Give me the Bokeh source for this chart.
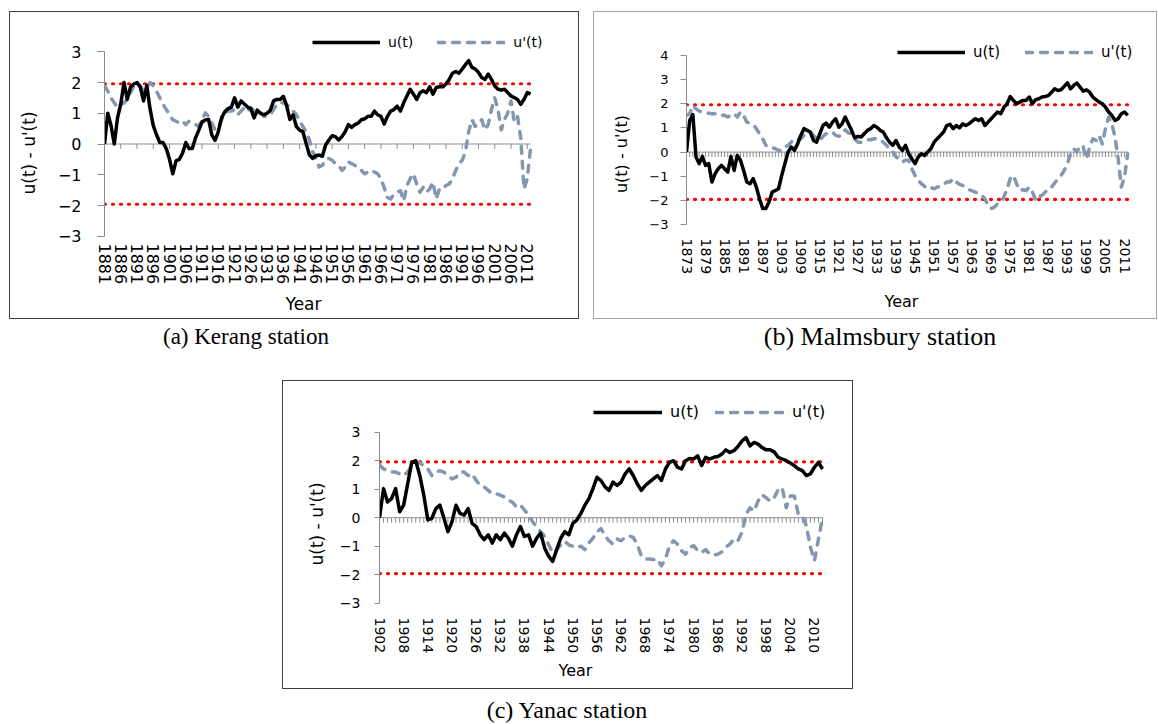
from bokeh.plotting import figure
from bokeh.models import (Range1d, LinearAxis, FixedTicker, Legend, LegendItem, Div,
                          InlineStyleSheet, CustomJSTickFormatter)
from bokeh.layouts import column, row
from bokeh.embed import file_html
from bokeh.resources import INLINE

# ---------------- data ----------------
Z_CRIT = 1.96

KERANG_START, KERANG_END = 1881, 2012
kerang_u = [
    0.0, 1.0, 0.6, 0.0, 0.85, 1.3, 2.0, 1.45, 1.85, 1.95,
    2.0, 1.85, 1.4, 1.9, 1.15, 0.6, 0.3, 0.05, 0.05, -0.15,
    -0.5, -0.97, -0.55, -0.5, -0.3, 0.05, -0.15, -0.15, 0.2, 0.45,
    0.72, 0.78, 0.8, 0.3, 0.12, 0.4, 0.85, 1.05, 1.15, 1.2,
    1.5, 1.2, 1.4, 1.3, 1.2, 1.15, 0.85, 1.1, 1.0, 0.95,
    1.0, 1.1, 1.4, 1.45, 1.45, 1.55, 1.25, 0.8, 0.95, 0.57,
    0.45, 0.4, 0.02, -0.35, -0.47, -0.38,
    -0.36, -0.4, -0.03, 0.13, 0.27, 0.24, 0.13, 0.24, 0.4, 0.63,
    0.54, 0.63, 0.68, 0.79, 0.82, 0.9, 0.9, 1.07, 0.95, 0.9,
    0.65, 0.9, 1.07, 1.12, 1.23, 1.07, 1.34, 1.56, 1.78, 1.62,
    1.45, 1.67, 1.73, 1.67, 1.86, 1.62, 1.84, 1.86, 1.86, 1.95,
    2.1, 2.3, 2.36, 2.3, 2.44, 2.58, 2.71, 2.49, 2.44, 2.33,
    2.16, 2.1, 2.27, 2.1, 1.89, 1.78, 1.75, 1.78, 1.67, 1.56,
    1.51, 1.45, 1.29, 1.45, 1.67, 1.62,
]
kerang_up = [
    1.89, 1.72, 1.5, 1.34, 1.18, 1.29, 1.34, 1.45, 1.67, 1.89,
    1.95, 1.89, 1.72, 1.84, 2.0, 1.89, 1.72, 1.5, 1.29, 1.12,
    0.96, 0.79, 0.74, 0.68, 0.74, 0.63, 0.74, 0.68, 0.63, 0.57,
    0.79, 1.01, 0.9, 0.68, 0.46, 0.57, 0.79, 1.01, 1.07, 1.07,
    1.12, 0.96, 1.07, 1.18, 1.07, 1.18, 1.07, 0.96, 1.01, 0.9,
    0.9, 0.96, 1.12, 1.29, 1.34, 1.34, 1.29, 1.18, 1.07, 0.96,
    0.74, 0.57, 0.4, 0.13, -0.25, -0.45,
    -0.75, -0.69, -0.53, -0.47, -0.53, -0.64, -0.69, -0.86, -0.75, -0.58,
    -0.64, -0.69, -0.8, -0.86, -0.97, -0.91, -0.86, -0.91, -0.97, -1.13,
    -1.41, -1.74, -1.79, -1.63, -1.57, -1.52, -1.85, -1.35, -1.13, -0.97,
    -1.3, -1.57, -1.41, -1.57, -1.46, -1.24, -1.79, -1.46, -1.46, -1.35,
    -1.3, -1.13, -0.86, -0.64, -0.53, -0.25, 0.41, 0.79, 0.57, 0.68,
    0.79, 0.46, 0.63, 1.12, 1.5, 1.12, 0.46, 0.79, 1.01, 1.4,
    0.74, 0.9, 0.19, -1.46, -1.13, -0.14,
]
kerang_ticks = [1881, 1886, 1891, 1896, 1901, 1906, 1911, 1916, 1921, 1926,
                1931, 1936, 1941, 1946, 1951, 1956, 1961, 1966, 1971, 1976,
                1981, 1986, 1991, 1996, 2001, 2006, 2011]

MALMS_START, MALMS_END = 1873, 2012
malms_u = [
    0.0, 1.3, 1.55, -0.2, -0.48, -0.18, -0.55, -0.48, -1.24, -0.9,
    -0.69, -0.55, -0.69, -0.83, -0.18, -0.76, -0.14, -0.34, -0.76, -1.24,
    -1.31, -1.1, -1.45, -1.93, -2.34, -2.34, -2.07, -1.66, -1.59, -1.52,
    -0.97, -0.48, 0.0, 0.21, 0.07, 0.34, 0.69, 0.97, 0.9, 0.83,
    0.48, 0.41, 0.76, 1.1, 1.2, 1.03, 1.24, 1.38, 1.03, 1.17,
    1.45, 1.17, 0.9, 0.59, 0.65, 0.62, 0.76, 0.9, 0.97, 1.1,
    1.03, 0.9, 0.83, 0.59, 0.41, 0.28, 0.48, 0.21, 0.07, 0.28,
    -0.07, -0.28, -0.48, -0.2, -0.07, -0.14, 0.0, 0.14, 0.41, 0.55,
    0.69, 0.83, 1.1, 1.15, 0.97, 1.1, 1.0, 1.17, 1.1, 1.17,
    1.28, 1.38, 1.31, 1.38, 1.1, 1.24, 1.38, 1.52, 1.66, 1.59,
    1.86, 2.0, 2.3, 2.14, 2.0, 2.07, 2.14, 2.14, 2.28, 2.0,
    2.17, 2.21, 2.28, 2.3, 2.34, 2.48, 2.62, 2.55, 2.58, 2.72,
    2.87, 2.62, 2.76, 2.86, 2.69, 2.52, 2.58, 2.48, 2.28, 2.17,
    2.07, 2.0, 1.86, 1.66, 1.52, 1.31, 1.38, 1.59, 1.66, 1.52,
]
malms_up = [
    1.52, 1.59, 1.93, 1.79, 1.7, 1.66, 1.63, 1.61, 1.59, 1.59,
    1.52, 1.52, 1.52, 1.45, 1.52, 1.59, 1.45, 1.66, 1.52, 1.24,
    1.2, 1.14, 0.97, 0.76, 0.55, 0.28, 0.21, 0.18, 0.14, 0.07,
    0.07, 0.21, 0.28, 0.41, 0.55, 0.51, 0.55, 0.69, 0.76, 0.83,
    0.69, 0.55, 0.48, 0.65, 0.76, 0.76, 0.83, 0.69, 0.65, 0.73,
    0.92, 0.79, 0.76, 0.55, 0.41, 0.41, 0.48, 0.51, 0.51, 0.55,
    0.55, 0.51, 0.41, 0.28, 0.14, 0.0, -0.2, -0.28, -0.41, -0.34,
    -0.34, -0.69, -0.97, -1.17, -1.31, -1.42, -1.52, -1.47, -1.52, -1.45,
    -1.42, -1.34, -1.24, -1.24, -1.1, -1.24, -1.34, -1.38, -1.47, -1.56,
    -1.61, -1.66, -1.72, -1.79, -1.93, -2.21, -2.34, -2.28, -2.14, -2.07,
    -1.86, -1.52, -1.1, -0.97, -1.31, -1.59, -1.56, -1.59, -1.45, -1.66,
    -2.0, -1.86, -1.79, -1.66, -1.56, -1.45, -1.28, -1.1, -0.97, -0.76,
    -0.48, -0.07, 0.14, 0.0, 0.28, 0.21, -0.28, 0.21, 0.55, 0.48,
    0.69, 0.34, 0.97, 1.45, 1.17, 0.62, -0.28, -1.45, -1.03, -0.07,
]
malms_ticks = [1873, 1879, 1885, 1891, 1897, 1903, 1909, 1915, 1921, 1927,
               1933, 1939, 1945, 1951, 1957, 1963, 1969, 1975, 1981, 1987,
               1993, 1999, 2005, 2011]

YANAC_START, YANAC_END = 1902, 2012
yanac_u = [
    0.0, 1.02, 0.55, 0.67, 1.02, 0.21, 0.44, 1.19, 1.94, 2.0,
    1.48, 0.79, -0.08, -0.02, 0.32, 0.44, -0.02, -0.49, -0.14, 0.44,
    0.15, 0.09, 0.32, -0.2, -0.31, -0.6, -0.77, -0.6, -0.89, -0.6,
    -0.77, -0.54, -0.72, -1.0, -0.6, -0.31, -0.66, -0.6, -1.0, -0.72,
    -0.54, -1.06, -1.35, -1.53, -1.12, -0.72, -0.49, -0.6, -0.2, -0.08,
    0.15, 0.44, 0.67, 1.02, 1.42, 1.3,
    1.08, 0.96, 1.25, 1.13, 1.25, 1.54, 1.71, 1.48, 1.19, 0.96,
    1.13, 1.25, 1.36, 1.48, 1.31, 1.71, 1.94, 2.0, 1.77, 1.71,
    2.0, 2.08, 2.06, 2.17, 1.83, 2.12, 2.06, 2.12, 2.15, 2.23,
    2.38, 2.29, 2.35, 2.5, 2.69, 2.81, 2.52, 2.64, 2.58, 2.46,
    2.38, 2.38, 2.31, 2.12, 2.06, 2.0, 1.92, 1.83, 1.71, 1.65,
    1.48, 1.54, 1.77, 1.94, 1.71,
]
yanac_up = [
    1.85, 1.71, 1.65, 1.6, 1.6, 1.54, 1.48, 1.6, 1.83, 1.94,
    1.92, 1.83, 1.71, 1.48, 1.6, 1.65, 1.6, 1.48, 1.36, 1.42,
    1.6, 1.6, 1.48, 1.54, 1.31, 1.13, 1.08, 0.96, 0.84, 0.84,
    0.79, 0.73, 0.61, 0.55, 0.38, 0.44, 0.27, 0.09, -0.14, -0.31,
    -0.49, -0.66, -0.95, -1.24, -1.12, -0.95, -0.83, -0.95, -1.0, -1.06,
    -1.0, -1.12, -0.89, -0.72, -0.49, -0.38,
    -0.64, -0.81, -0.93, -0.75, -0.81, -0.69, -0.64, -0.69, -0.93, -1.34,
    -1.45, -1.45, -1.47, -1.45, -1.69, -1.45, -0.98, -0.81, -0.93, -1.16,
    -1.28, -1.04, -0.98, -1.16, -1.22, -1.12, -1.28, -1.31, -1.28, -1.2,
    -1.04, -0.93, -0.75, -0.81, -0.52, 0.12, 0.35, 0.23, 0.58, 0.81,
    0.7, 0.58, 0.7, 0.99, 1.05, 0.35, 0.76, 0.76, 0.12, 0.06,
    -0.29, -1.04, -1.51, -0.75, 0.0,
]
yanac_ticks = [1902, 1908, 1914, 1920, 1926, 1932, 1938, 1944, 1950, 1956,
               1962, 1968, 1974, 1980, 1986, 1992, 1998, 2004, 2010]

Y_TICKS_A = [-3, -2, -1, 0, 1, 2, 3]
Y_TICKS_B = [-3, -2, -1, 0, 1, 2, 3, 4]
Y_TICKS_C = [-3, -2, -1, 0, 1, 2, 3]

SERIES_LABELS = ["u(t)", "u'(t)"]
Y_TITLE = "u(t) - u'(t)"
X_TITLE = "Year"
CAPTIONS = ["(a) Kerang station", "(b) Malmsbury station", "(c) Yanac station"]

# ---------------- style ----------------
FONT = "DejaVu Sans"
AXIS_GRAY = "#8c8c8c"
U_COLOR = "#000000"
UP_COLOR = "#8497B0"
CRIT_COLOR = "#FF0000"


def title_axis(text, at, fs, standoff, orientation):
    return LinearAxis(ticker=FixedTicker(ticks=[at]),
                      formatter=CustomJSTickFormatter(args=dict(t=text), code="return t"),
                      axis_line_color=None, major_tick_line_color=None,
                      minor_tick_line_color=None, major_tick_in=0, major_tick_out=0,
                      major_label_orientation=orientation,
                      major_label_standoff=standoff, major_label_text_font=FONT,
                      major_label_text_font_size=fs, major_label_text_color="#000000")


def make_panel(start, end, u, up, ticks, zero_every, ylo, yhi, yticks, g, st):
    years = list(range(start, end + 1))
    ppy = (g["x1"] - g["x0"]) / (end - start)              # px per year
    ppu = (g["yb_data"] - g["yt_data"]) / (yhi - ylo)      # px per unit
    x_hi = start + (g["xr"] - g["x0"]) / ppy
    y_hi = yhi + (g["yt_data"] - g["yt"]) / ppu
    y_lo = ylo - (g["yb"] - g["yb_data"]) / ppu
    ml = g["x0"] - g["left"]
    mr = g["left"] + g["W"] - g["xr"]
    mt = g["yt"] - g["top"]
    mb = g["top"] + g["H"] - g["yb"]

    p = figure(width=g["W"], height=g["H"], output_backend="svg", toolbar_location=None,
               x_range=Range1d(start, x_hi), y_range=Range1d(y_lo, y_hi),
               x_axis_type=None, y_axis_type=None,
               min_border_left=ml, min_border_right=mr,
               min_border_top=mt, min_border_bottom=mb,
               stylesheets=[InlineStyleSheet(
                   css=":host { outline: 1px solid %s; outline-offset: 0px; }" % st["border"])])
    p.outline_line_color = None
    p.background_fill_color = "white"
    p.border_fill_color = "white"

    yaxis = LinearAxis(ticker=FixedTicker(ticks=yticks), bounds=(ylo, yhi),
                       axis_line_color=AXIS_GRAY, major_tick_line_color=AXIS_GRAY,
                       major_tick_in=0, major_tick_out=st["ytick_len"],
                       minor_tick_line_color=None,
                       major_label_text_font=FONT,
                       major_label_text_font_size=st["ytick_fs"],
                       major_label_text_color="#000000",
                       major_label_standoff=st["ytick_standoff"])
    p.add_layout(yaxis, "left")
    yc = ylo + (g["yb_data"] - g["ylab_c"]) / ppu
    p.add_layout(title_axis(Y_TITLE, round(yc, 3), st["ylab_fs"], st["ylab_standoff"],
                            "vertical"), "left")

    xaxis = LinearAxis(ticker=FixedTicker(ticks=ticks), bounds=(start, end),
                       axis_line_color=None, major_tick_line_color=None,
                       minor_tick_line_color=None, major_tick_in=0, major_tick_out=0,
                       major_label_orientation="vertical",
                       major_label_text_font=FONT,
                       major_label_text_font_size=st["xtick_fs"],
                       major_label_text_color="#000000",
                       major_label_standoff=st["xtick_standoff"])
    p.add_layout(xaxis, "below")
    xc = start + (g["xlab_c"] - g["x0"]) / ppy
    p.add_layout(title_axis(X_TITLE, round(xc, 3), st["xlab_fs"], st["xlab_standoff"],
                            "horizontal"), "below")

    # horizontal category axis crossing at zero, with its tick marks
    zeros = [0] * len(years)
    p.line(years, zeros, line_color=AXIS_GRAY, line_width=1)
    tick_years = years[::zero_every]
    tick_len = 5 / ppu
    p.segment(x0=tick_years, y0=[0] * len(tick_years), x1=tick_years,
              y1=[-tick_len] * len(tick_years), line_color=AXIS_GRAY, line_width=1)

    crit_hi = [Z_CRIT] * len(years)
    crit_lo = [-Z_CRIT] * len(years)
    p.line(years, crit_hi, line_color=CRIT_COLOR, line_width=3.2,
           line_dash="1 7", line_cap="round")
    p.line(years, crit_lo, line_color=CRIT_COLOR, line_width=3.2,
           line_dash="1 7", line_cap="round")
    r_up = p.line(years, up, line_color=UP_COLOR, line_width=3.5,
                  line_dash="7 8", line_cap="round", line_join="round")
    r_u = p.line(years, u, line_color=U_COLOR, line_width=3.5, line_join="round")

    leg_vx = g["leg_x"] - g["x0"]
    leg_vy = g["yb"] - (g["leg_y"] + 8)
    legend = Legend(items=[LegendItem(label=SERIES_LABELS[0], renderers=[r_u]),
                           LegendItem(label=SERIES_LABELS[1], renderers=[r_up])],
                    orientation="horizontal", location=(leg_vx, leg_vy),
                    border_line_color=None, background_fill_alpha=0,
                    padding=0, margin=0, spacing=st["legend_spacing"],
                    glyph_width=st["glyph_w"], glyph_height=16, label_height=16,
                    label_standoff=8, label_text_font=FONT,
                    label_text_font_size=st["legend_fs"], label_text_color="#000000")
    p.add_layout(legend)
    return p


# (a) and (b) share one row, so their plot areas share top and bottom edges
geom_a = dict(left=10, top=12, W=568, H=306, x0=104, x1=530, xr=570,
              yt_data=51.25, yb_data=235.75, yt=31, yb=236,
              ylab_c=152.5, xlab_c=303, leg_x=312, leg_y=42)
geom_b = dict(left=594, top=12, W=562, H=306, x0=686, x1=1127.2, xr=1145,
              yt_data=55, yb_data=224, yt=31, yb=236,
              ylab_c=153.5, xlab_c=901, leg_x=897, leg_y=53)
geom_c = dict(left=283, top=381, W=569, H=307, x0=379, x1=822, xr=840,
              yt_data=431.7, yb_data=602.7, yt=400, yb=603,
              ylab_c=523.5, xlab_c=575, leg_x=593, leg_y=413)

style_a = dict(border="#404040", ytick_len=7, ytick_fs="16px", ytick_standoff=16,
               xtick_fs="16px", xtick_standoff=7, legend_spacing=24, glyph_w=68,
               legend_fs="14px", ylab_fs="17px", ylab_standoff=15,
               xlab_fs="17px", xlab_standoff=6)
style_b = dict(border="#a6a6a6", ytick_len=6, ytick_fs="13px", ytick_standoff=12,
               xtick_fs="14px", xtick_standoff=2, legend_spacing=25, glyph_w=68,
               legend_fs="15px", ylab_fs="16px", ylab_standoff=15,
               xlab_fs="16px", xlab_standoff=14)
style_c = dict(border="#404040", ytick_len=5, ytick_fs="14px", ytick_standoff=14,
               xtick_fs="14px", xtick_standoff=14, legend_spacing=16, glyph_w=69,
               legend_fs="16px", ylab_fs="17px", ylab_standoff=9,
               xlab_fs="16px", xlab_standoff=4)

pa = make_panel(KERANG_START, KERANG_END, kerang_u, kerang_up, kerang_ticks, 5,
                -3, 3, Y_TICKS_A, geom_a, style_a)
pb = make_panel(MALMS_START, MALMS_END, malms_u, malms_up, malms_ticks, 1,
                -3, 4, Y_TICKS_B, geom_b, style_b)
pc = make_panel(YANAC_START, YANAC_END, yanac_u, yanac_up, yanac_ticks, 1,
                -3, 3, Y_TICKS_C, geom_c, style_c)

pa.margin = (12, 0, 1, 10)
pb.margin = (12, 0, 1, 16)
pc.margin = (26, 0, 1, 283)


def caption(text, width, height, margin, fs, extra=""):
    css = (":host, :host * { font-family: 'Liberation Serif', 'Times New Roman', serif !important; "
           "font-size: %s !important; text-align: center; color: #000; } "
           ":host { %s }" % (fs, extra))
    return Div(text=text, width=width, height=height, margin=margin,
               styles={"font-family": "'Liberation Serif', serif", "font-size": fs},
               stylesheets=[InlineStyleSheet(css=css)])


cap_a = caption(CAPTIONS[0], 474, 36, (0, 0, 0, 9), "23px", "line-height: 36px;")
cap_b = caption(CAPTIONS[1], 540, 36, (0, 0, 0, 127), "26px", "line-height: 36px;")
cap_c = caption(CAPTIONS[2], 570, 35, (0, 0, 0, 282), "24px",
                "line-height: 24px; padding-top: 9px; box-sizing: border-box;")

layout = column(row(pa, pb), row(cap_a, cap_b), row(pc), row(cap_c))

open("out.html", "w").write(file_html(layout, INLINE))
